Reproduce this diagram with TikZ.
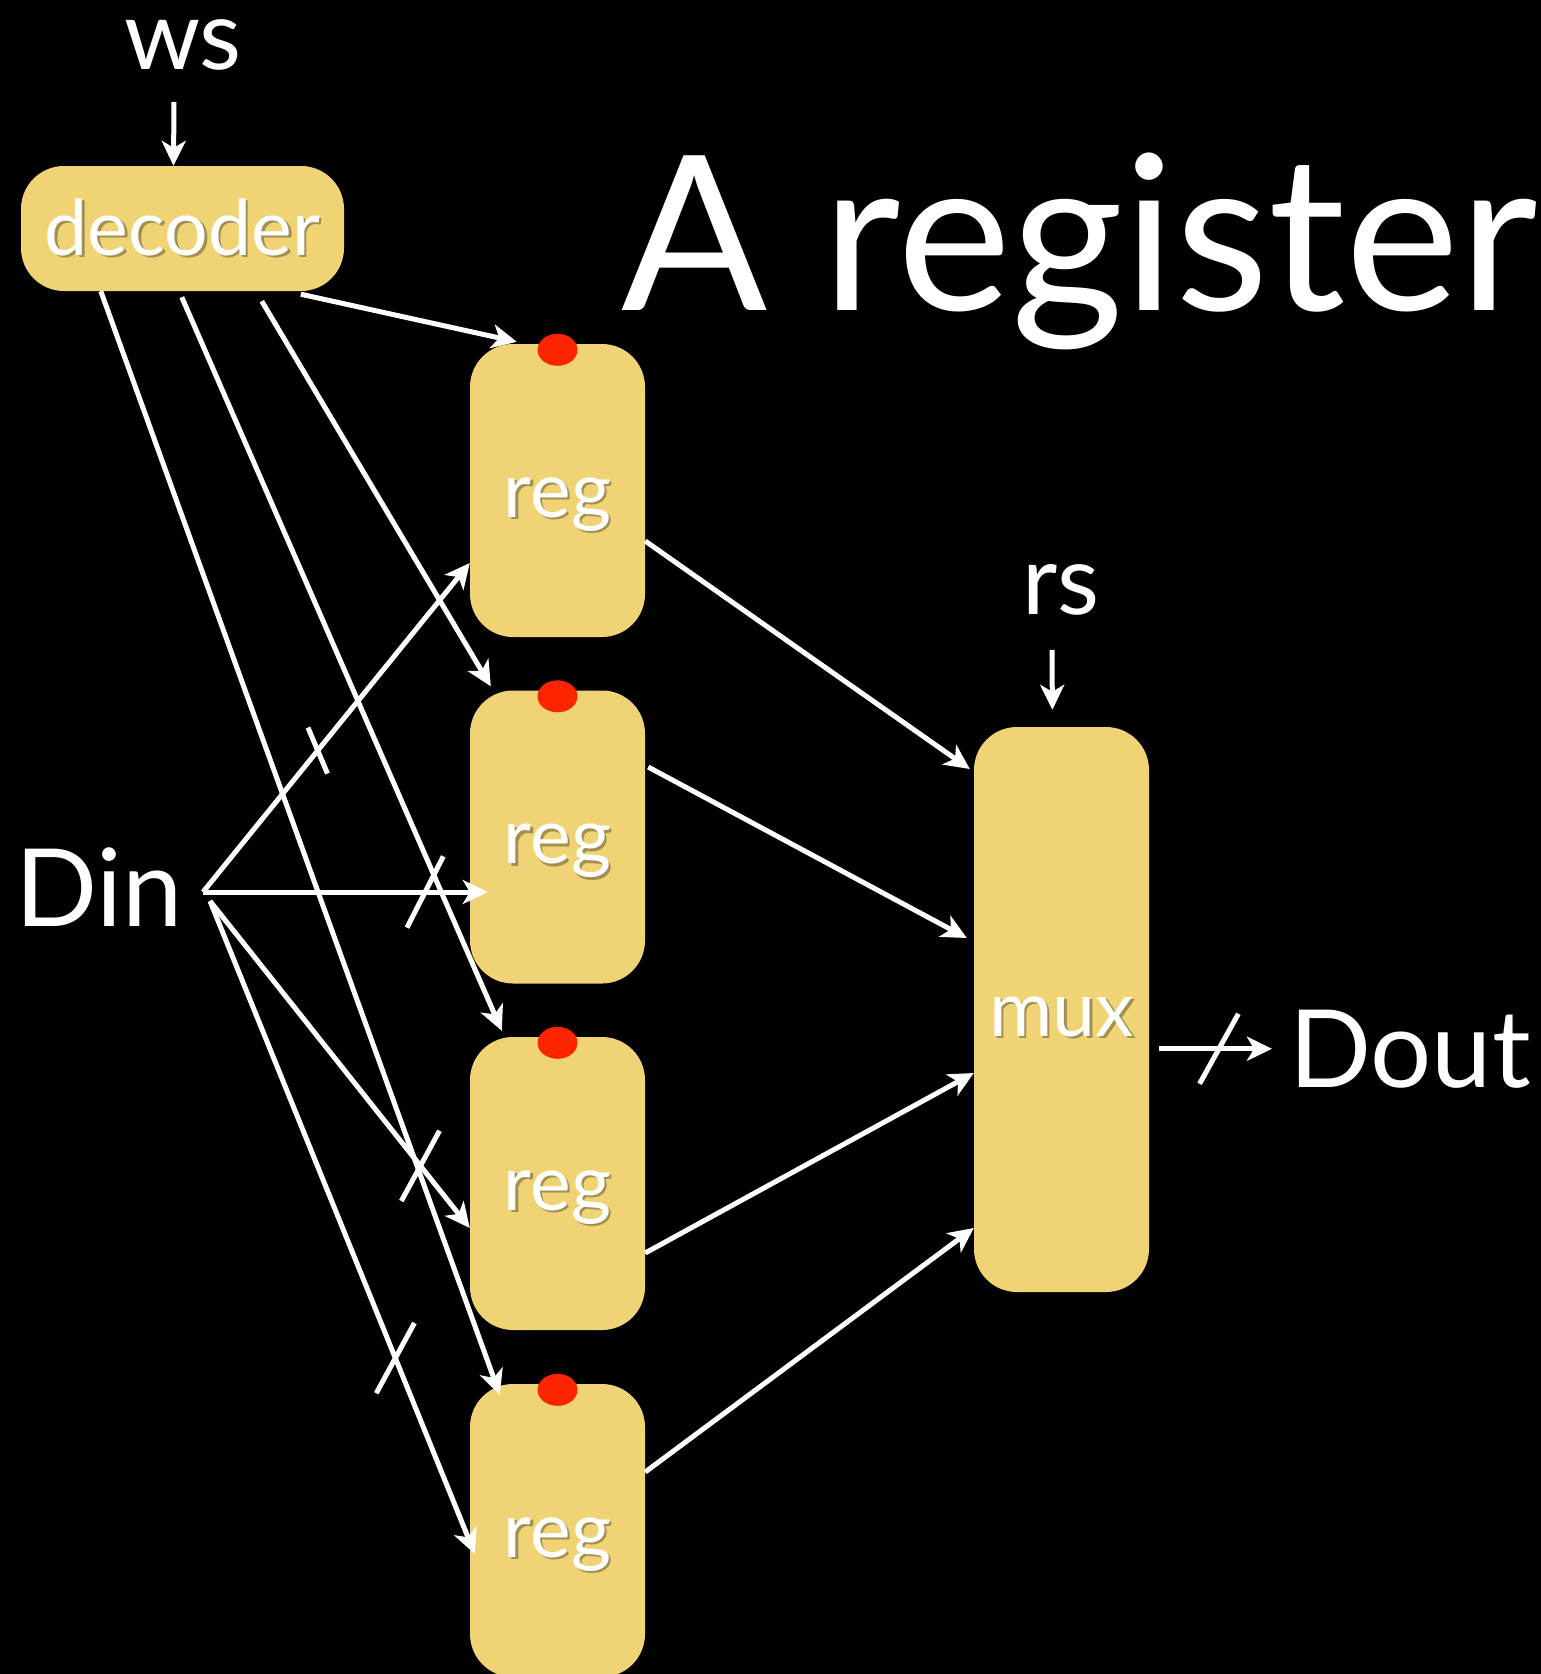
\documentclass[tikz,border=0pt]{standalone}
\usepackage{fontspec}
\setmainfont{Lato}
\usetikzlibrary{arrows.meta,calc}

\definecolor{parchment}{RGB}{240,211,117}
\definecolor{latchdot}{RGB}{255,36,0}
\colorlet{engrave}{parchment!68!black}

% white label with a soft shadow under it
\newcommand\embossed[1]{\rlap{\kern2.5pt\raisebox{-2.5pt}{\color{engrave}#1}}#1}

\begin{document}
\begin{tikzpicture}[x=1pt,y=-1pt,
  font=\fontsize{108}{112}\selectfont,
  every node/.style={text=white,inner sep=0pt},
  block/.style={fill=parchment,rounded corners=43pt,
    font=\fontsize{77}{80}\selectfont,text height=70pt,text depth=17pt},
  regbox/.style={block,minimum width=175pt,minimum height=293pt},
  small/.style={font=\fontsize{97}{100}\selectfont},
  wire/.style={draw=white,line width=5pt},
  arr/.style={wire,-{Stealth[length=25pt,width=24pt,inset=7pt]}}]

\useasboundingbox (0,0) rectangle (1541,1674);
\fill[black] (0,0) rectangle (1541,1674);

%blocks
  \node[block,minimum width=323pt,minimum height=125pt] (dec) at (182.5,228.5) {\embossed{decoder}};
  \foreach \i/\y in {1/490.5,2/837,3/1183.5,4/1530.5} {
    \node[regbox] (reg\i) at (557.5,\y) {\embossed{reg}};
    \fill[latchdot] ([yshift=-6pt]reg\i.north) ellipse [x radius=20pt,y radius=16pt]; }
  \node[block,minimum width=175pt,minimum height=565pt] (mux) at (1061.5,1009.5) {\embossed{mux}};

%labels
  \node[small,anchor=base] (ws) at (183,69) {ws};
  \node[small,anchor=base] (rs) at (1061,614) {rs};
  \node[anchor=base west] (din) at (15,926) {Din};
  \node[anchor=base west] (dout) at (1289,1087) {Dout};
  \node[anchor=base west,font=\fontsize{216}{220}\selectfont] (title) at (621,310) {A register};

%select inputs
  \draw[arr] ([xshift=-9pt,yshift=-32pt]ws.south) -- ([xshift=-9pt]dec.north);
  \draw[arr,shorten >=17pt] ([xshift=-9pt,yshift=-35pt]rs.south) -- ([xshift=-9pt]mux.north);

%write enables
  \draw[arr] ([xshift=80pt]dec.south west) -- ([xshift=30pt,yshift=-11pt]reg4.north west);
  \draw[arr] ([xshift=161pt,yshift=-6pt]dec.south west) -- ([xshift=32pt,yshift=6pt]reg3.north west);
  \draw[arr] ([xshift=241pt,yshift=-10pt]dec.south west) -- ([xshift=21pt,yshift=4pt]reg2.north west);
  \draw[arr] ([xshift=280pt,yshift=-3pt]dec.south west) -- ([xshift=47pt,yshift=2pt]reg1.north west);

%data in
  \coordinate (fanA) at (203,892);
  \coordinate (fanB) at (210,901);
  \draw[arr] (fanA) -- coordinate[pos=.43] (bus1) ([yshift=-72.5pt]reg1.west);
  \draw[arr] (fanA) -- coordinate[pos=.78] (bus2) ([xshift=18pt,yshift=-55pt]reg2.west);
  \draw[arr] (fanB) -- coordinate[pos=.81] (bus3) ([yshift=-44.5pt]reg3.west);
  \draw[arr] (fanB) -- coordinate[pos=.70] (bus4) ([xshift=5pt,yshift=-23.5pt]reg4.west);

%data out
  \draw[arr] ([yshift=-50.5pt]reg1.east) -- ([xshift=-4pt,yshift=240.5pt]mux.west);
  \draw[arr] ([xshift=3pt,yshift=70pt]reg2.east) -- ([xshift=-7pt,yshift=71.5pt]mux.west);
  \draw[arr] ([yshift=-69.5pt]reg3.east) -- ([yshift=-63.5pt]mux.west);
  \draw[arr] ([yshift=58.5pt]reg4.east) -- ([yshift=-218.5pt]mux.west);
  \draw[arr] ($(mux.east |- dout.west)+(10,0)$) -- coordinate[pos=.53] (bus5) ([xshift=-17pt]dout.west);

%bus width ticks
  \foreach \c/\a/\l in {bus1/-67/25pt,bus2/63/40pt,bus3/61.5/40pt,bus4/61.5/40pt,bus5/61/40pt}
    \draw[wire] (\c) +(\a:\l) -- +(\a:-\l);

\end{tikzpicture}
\end{document}
